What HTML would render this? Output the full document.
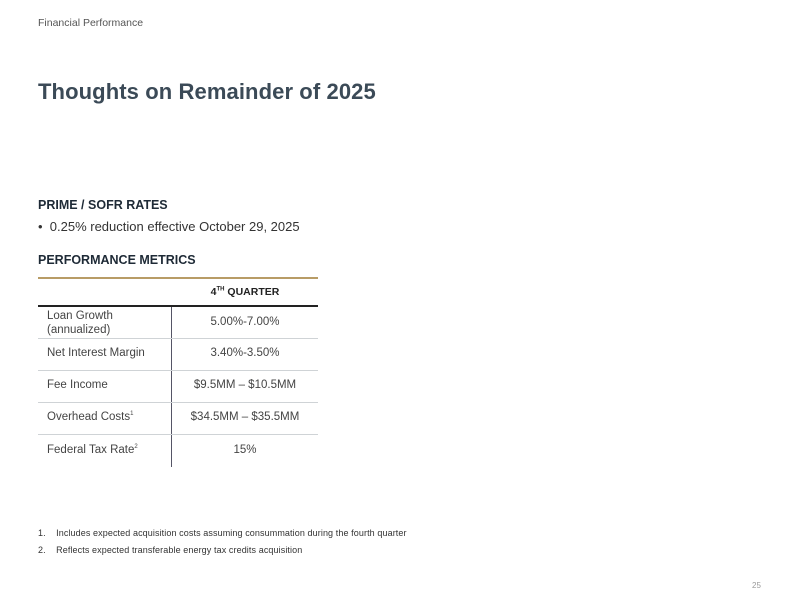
<!DOCTYPE html>
<html><head><meta charset="utf-8"><style>
html,body{margin:0;padding:0;background:#fff;}
body{width:800px;height:610px;position:relative;overflow:hidden;font-family:"Liberation Sans",sans-serif;color:#333;}
.a{position:absolute;white-space:nowrap;}
.hdr{left:38px;top:17px;font-size:10.5px;color:#555;}
.title{left:38px;top:79px;font-size:22px;color:#3b4a57;font-weight:bold;letter-spacing:0.1px;}
.sec{font-size:12.5px;font-weight:bold;color:#1e2a36;}
.bul{left:38px;top:219px;font-size:13px;color:#333;}
.line{position:absolute;left:38px;width:280px;}
.cell{position:absolute;font-size:11.5px;color:#444;}
.val{position:absolute;left:172px;width:146px;text-align:center;font-size:11.5px;color:#444;}
sup{font-size:6px;}
.fn{left:38px;font-size:9px;color:#333;letter-spacing:0.1px;}
</style></head><body>
<div class="a hdr">Financial Performance</div>
<div class="a title">Thoughts on Remainder of 2025</div>
<div class="a sec" style="left:38px;top:198px;">PRIME / SOFR RATES</div>
<div class="a bul">•&nbsp;&nbsp;0.25% reduction effective October 29, 2025</div>
<div class="a sec" style="left:38px;top:253px;">PERFORMANCE METRICS</div>
<div class="line" style="top:277px;height:2px;background:#b89c66;"></div>
<div class="a" style="left:172px;width:146px;text-align:center;top:286px;font-size:10.5px;font-weight:bold;color:#222;">4<sup>TH</sup> QUARTER</div>
<div class="line" style="top:305px;height:2px;background:#222;"></div>
<div style="position:absolute;left:171px;top:307px;width:1px;height:160px;background:#556;"></div>
<div class="line" style="top:338px;height:1px;background:#cfd3d6;"></div>
<div class="line" style="top:370px;height:1px;background:#cfd3d6;"></div>
<div class="line" style="top:402px;height:1px;background:#cfd3d6;"></div>
<div class="line" style="top:434px;height:1px;background:#cfd3d6;"></div>
<div class="cell" style="left:47px;top:309px;line-height:14px;">Loan Growth<br>(annualized)</div>
<div class="val" style="top:316px;">5.00%-7.00%</div>
<div class="cell" style="left:47px;top:347px;">Net Interest Margin</div>
<div class="val" style="top:347px;">3.40%-3.50%</div>
<div class="cell" style="left:47px;top:379px;">Fee Income</div>
<div class="val" style="top:379px;">$9.5MM – $10.5MM</div>
<div class="cell" style="left:47px;top:411px;">Overhead Costs<sup>1</sup></div>
<div class="val" style="top:411px;">$34.5MM – $35.5MM</div>
<div class="cell" style="left:47px;top:444px;">Federal Tax Rate<sup>2</sup></div>
<div class="val" style="top:444px;">15%</div>
<div class="a fn" style="top:528px;">1.&nbsp;&nbsp;&nbsp;&nbsp;Includes expected acquisition costs assuming consummation during the fourth quarter</div>
<div class="a fn" style="top:545px;">2.&nbsp;&nbsp;&nbsp;&nbsp;Reflects expected transferable energy tax credits acquisition</div>
<div class="a" style="left:752px;top:581px;font-size:8px;color:#999;">25</div>
</body></html>
